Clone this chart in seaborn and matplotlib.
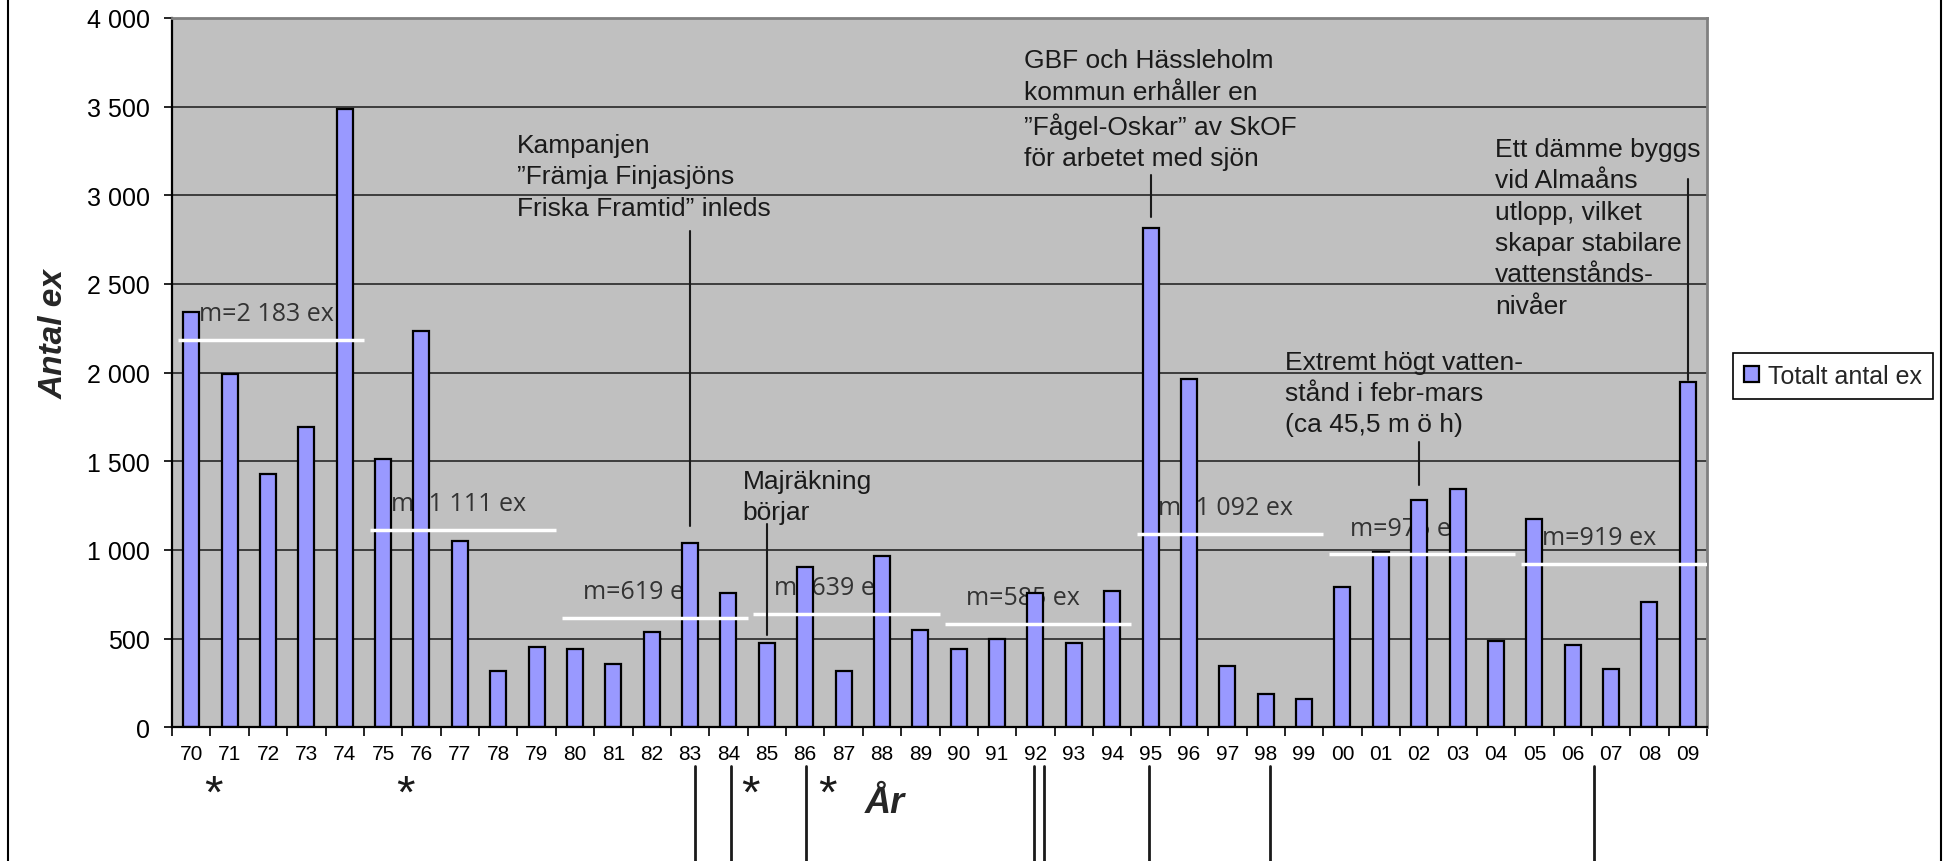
import matplotlib
matplotlib.use("Agg")
import matplotlib.pyplot as plt
import matplotlib.transforms as mtransforms
from matplotlib.lines import Line2D
from matplotlib.ticker import FixedLocator, FuncFormatter
import seaborn as sns
import pandas as pd

# ---------------- data ----------------
years = ['70', '71', '72', '73', '74', '75', '76', '77', '78', '79',
         '80', '81', '82', '83', '84', '85', '86', '87', '88', '89',
         '90', '91', '92', '93', '94', '95', '96', '97', '98', '99',
         '00', '01', '02', '03', '04', '05', '06', '07', '08', '09']
counts = [2340, 1990, 1428, 1696, 3489, 1513, 2234, 1051, 319, 453,
          443, 355, 538, 1038, 758, 475, 902, 317, 964, 551,
          440, 500, 755, 475, 768, 2817, 1966, 343, 185, 160,
          792, 987, 1283, 1345, 487, 1174, 464, 330, 709, 1949]

period_starts = ['70', '75', '80', '85', '90', '95', '00', '05']
period_means = [2183, 1111, 619, 639, 585, 1092, 975, 919]

event_years = ['83', '85', '95', '02', '09']
event_texts = [
    'Kampanjen\n\u201dFrämja Finjasjöns\nFriska Framtid\u201d inleds',
    'Majräkning\nbörjar',
    'GBF och Hässleholm\nkommun erhåller en\n\u201dFågel-Oskar\u201d av SkOF\nför arbetet med sjön',
    'Extremt högt vatten-\nstånd i febr-mars\n(ca 45,5 m ö h)',
    'Ett dämme byggs\nvid Almaåns\nutlopp, vilket\nskapar stabilare\nvattenstånds-\nnivåer',
]
# connector line ranges (in count units)
event_line_low = [1134, 523, 2879, 1367, 1956]
event_line_high = [2799, 1145, 3117, 1610, 3090]

star_years = ['71', '76', '85', '87']
bottom_line_years = ['83', '84', '86', '92', '92', '95', '98', '06']
bottom_line_shift = [0.12, 0.06, 0.01, -0.05, 0.23, -0.03, 0.12, 0.56]

legend_label = 'Totalt antal ex'

# ---------------- layout / style ----------------
W, H = 1954, 862
BAR = '#9999FF'
BG = '#C0C0C0'
FONT = ['Liberation Sans', 'DejaVu Sans']
MEANFONT = ['Open Sans', 'Liberation Sans', 'DejaVu Sans']

sns.set_theme(style='white')
plt.rcParams['font.family'] = FONT

fig = plt.figure(figsize=(W / 100, H / 100), dpi=100)
fig.patch.set_facecolor('white')
ax_l, ax_r, ax_t, ax_b = 172, 1707, 19, 728.3
ax = fig.add_axes([ax_l / W, 1 - ax_b / H, (ax_r - ax_l) / W, (ax_b - ax_t) / H])
ax.set_facecolor(BG)

df = pd.DataFrame({'year': years, 'count': counts})
sns.barplot(data=df, x='year', y='count', order=years, color=BAR, saturation=1,
            edgecolor='black', linewidth=1.6, width=0.42, ax=ax, zorder=2,
            label=legend_label)

ax.set_xlim(-0.5, len(years) - 0.5)
ax.set_ylim(0, 4000)

# y axis
ax.yaxis.set_major_locator(FixedLocator(range(0, 4001, 500)))
ax.yaxis.set_major_formatter(FuncFormatter(lambda v, p: f'{int(v):,}'.replace(',', ' ')))
ax.tick_params(axis='y', which='major', direction='out', length=6, width=1.2,
               color='black', labelsize=18, pad=10, left=True, labelcolor='black')
ax.yaxis.grid(True, color='#1a1a1a', linewidth=1.1)
ax.set_axisbelow(True)

# x axis: labels at centres, tick marks at boundaries
ax.set_xticks(range(len(years)))
ax.set_xticklabels(years)
ax.set_xticks([i - 0.5 for i in range(len(years) + 1)], minor=True)
ax.tick_params(axis='x', which='major', length=0, labelsize=15, pad=12, labelcolor='black')
ax.tick_params(axis='x', which='minor', direction='out', length=6.5, width=1.2,
               color='black', bottom=True)

for side in ['left', 'bottom']:
    ax.spines[side].set_color('black')
    ax.spines[side].set_linewidth(1.6)
for side in ['top', 'right']:
    ax.spines[side].set_color('#808080')
    ax.spines[side].set_linewidth(2)

ax.set_ylabel('Antal ex', fontsize=24, fontweight='bold', style='italic',
              ha='center', va='baseline')
ax.yaxis.set_label_coords((63 - ax_l) / (ax_r - ax_l), (ax_b - 334) / (ax_b - ax_t))
ax.set_xlabel('År', fontsize=26, fontweight='bold', style='italic',
              ha='center', va='baseline')
ax.xaxis.set_label_coords((885 - ax_l) / (ax_r - ax_l), (ax_b - 813) / (ax_b - ax_t))

# mean lines and labels
for start, m in zip(period_starts, period_means):
    i0 = years.index(start)
    x0 = i0 - 0.35
    x1 = min(i0 + 4.5, len(years) - 0.5)
    ax.plot([x0, x1], [m, m], color='white', lw=2.5, zorder=3, solid_capstyle='butt')
    ax.annotate(f'm={m:,} ex'.replace(',', ' '), xy=(i0 + 0.2, m), xytext=(0, 19),
                textcoords='offset points', ha='left', va='center', fontsize=18,
                color='#333333', family=MEANFONT, zorder=1)

# event annotations
text_pos_x = [8.48, 14.37, 21.7, 28.5, 33.98]
text_pos_top = [3353, 1458, 3829, 2130, 3330]
for yr, txt, lo, hi, tx, ty in zip(event_years, event_texts, event_line_low,
                                   event_line_high, text_pos_x, text_pos_top):
    xi = years.index(yr)
    ax.plot([xi, xi], [lo, hi], color='#1a1a1a', lw=1.5, zorder=3)
    ax.text(tx, ty, txt, ha='left', va='top', fontsize=19, color='#1a1a1a',
            linespacing=1.39, zorder=4)

# asterisks below the axis
blend = mtransforms.blended_transform_factory(ax.transData, fig.transFigure)
for yr in star_years:
    xi = years.index(yr) - 0.42
    ax.text(xi, 1 - 808 / H, '*', transform=blend, ha='center', va='baseline',
            fontsize=34, color='#1a1a1a', clip_on=False)

# vertical lines below the axis
for yr, sh in zip(bottom_line_years, bottom_line_shift):
    xi = years.index(yr) + sh
    fig.add_artist(Line2D([xi, xi], [1 - 767 / H, 0], transform=blend,
                          color='#1a1a1a', lw=2))

# legend
ax.legend(loc='center left', bbox_to_anchor=(1733 / W, 1 - 377 / H),
          bbox_transform=fig.transFigure, frameon=True, fancybox=False,
          edgecolor='black', framealpha=1, fontsize=18, handlelength=0.6,
          handleheight=0.6, handletextpad=0.35, borderpad=0.45, borderaxespad=0)
ax.get_legend().get_frame().set_linewidth(1.2)

# outer frame lines of the figure
for xf in [8, 1941]:
    fig.add_artist(Line2D([xf / W, xf / W], [0, 1], transform=fig.transFigure,
                          color='black', lw=1.5))

fig.savefig('out.png', dpi=100)
